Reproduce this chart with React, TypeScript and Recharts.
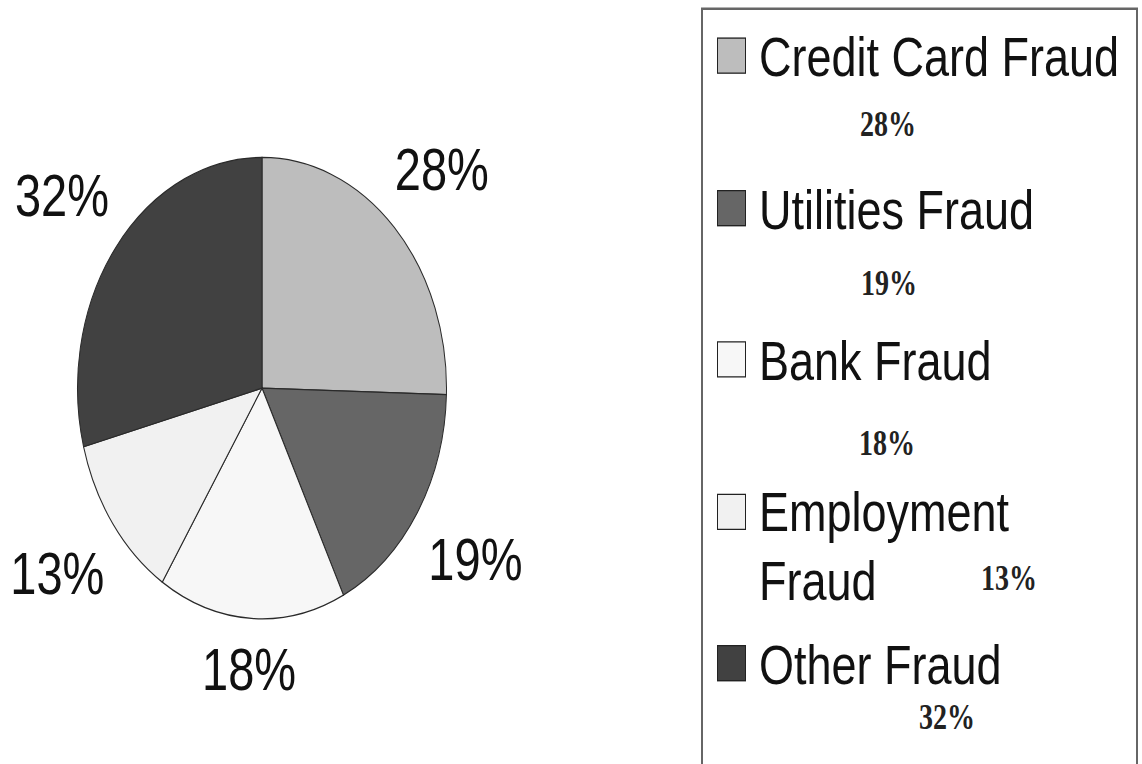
import React from "react"
import { PieChart, Pie, Cell, Legend } from "recharts"

// fraud categories and their shares (labels in the source sum to 110, the pie normalises them)
const categories = ["Credit Card Fraud", "Utilities Fraud", "Bank Fraud", "Employment Fraud", "Other Fraud"]
const shares = [28, 19, 18, 13, 32]

const palette = ["#bdbdbd", "#666666", "#f7f7f7", "#f1f1f1", "#414141"]

// the original picture is stretched vertically
const STRETCH = 1.25
const W = 1142
const H = 764 / STRETCH

// where the small bold percentages sit inside the legend box (x, offset below the item's baseline)
const legendPct = [
  { x: 185, dy: 38 },
  { x: 186, dy: 44 },
  { x: 184, dy: 50 },
  { x: 306, dy: 37 },
  { x: 244, dy: 26 },
]

const data = categories.map((name, i) => ({ name, value: shares[i], fill: palette[i] }))

const RADIAN = Math.PI / 180
const LABEL_FONT = 47

function renderLabel(props: any) {
  const { cx, cy, midAngle, outerRadius, value } = props
  const c = Math.cos(-midAngle * RADIAN)
  const s = Math.sin(-midAngle * RADIAN)
  // keep the text box a fixed gap away from the rim
  const extra = 46 * Math.abs(c) + 17.5 * Math.abs(s)
  const r = outerRadius + 21 + extra
  return (
    <text
      x={cx + r * c}
      y={cy + r * s}
      textAnchor="middle"
      dominantBaseline="central"
      fontSize={LABEL_FONT}
      fontFamily="'Liberation Sans', Arial, sans-serif"
      fill="#111"
    >
      {`${value}%`}
    </text>
  )
}

// legend keeps the data order (Recharts would sort its payload by name)
function FraudLegend() {
  const baseTop = 53.6
  const pitch = 121.4
  return (
    <div
      style={{
        position: "relative",
        width: 437,
        height: 700,
        border: "2px solid #666",
        boxSizing: "border-box",
        background: "#fff",
        fontFamily: "'Liberation Sans', Arial, sans-serif",
        color: "#111",
      }}
    >
      {categories.map((name, i) => {
        const baseline = baseTop + i * pitch
        return (
          <React.Fragment key={name}>
            <div
              style={{
                position: "absolute",
                left: 14,
                top: baseline - 31.5,
                width: 29,
                height: 29,
                background: palette[i],
                border: "1.5px solid #222",
                boxSizing: "border-box",
              }}
            />
            <div
              style={{
                position: "absolute",
                left: 56,
                top: baseline - 42.8,
                width: 372,
                fontSize: 45,
                lineHeight: "54.4px",
              }}
            >
              {name}
            </div>
            <div
              style={{
                position: "absolute",
                left: legendPct[i].x,
                top: baseline + legendPct[i].dy,
                transform: "translate(-50%, -50%)",
                fontFamily: "'Liberation Serif', 'Times New Roman', serif",
                fontWeight: "bold",
                fontSize: 28,
                lineHeight: "28px",
                whiteSpace: "nowrap",
                color: "#222",
              }}
            >
              {`${shares[i]}%`}
            </div>
          </React.Fragment>
        )
      })}
    </div>
  )
}

export default function App() {
  return (
    <div style={{ position: "fixed", left: 0, top: 0, width: W, height: 764, overflow: "hidden", background: "#fff" }}>
      <div style={{ width: W, height: H, transform: `scaleY(${STRETCH})`, transformOrigin: "0 0" }}>
        <PieChart width={W} height={H} margin={{ top: 0, right: 0, bottom: 0, left: 0 }}>
          <Pie
            data={data}
            dataKey="value"
            nameKey="name"
            cx={262}
            cy={310.5}
            outerRadius={184.5}
            startAngle={90}
            endAngle={-270}
            stroke="#2a2a2a"
            strokeWidth={1}
            label={renderLabel}
            labelLine={false}
            isAnimationActive={false}
          >
            {data.map((d, i) => (
              <Cell key={d.name} fill={palette[i]} />
            ))}
          </Pie>
          <Legend
            layout="vertical"
            align="right"
            verticalAlign="top"
            width={437}
            content={() => <FraudLegend />}
            wrapperStyle={{ position: "absolute", left: 701, top: 6.4, right: "auto", bottom: "auto", width: 437, height: 700 }}
          />
        </PieChart>
      </div>
    </div>
  )
}
